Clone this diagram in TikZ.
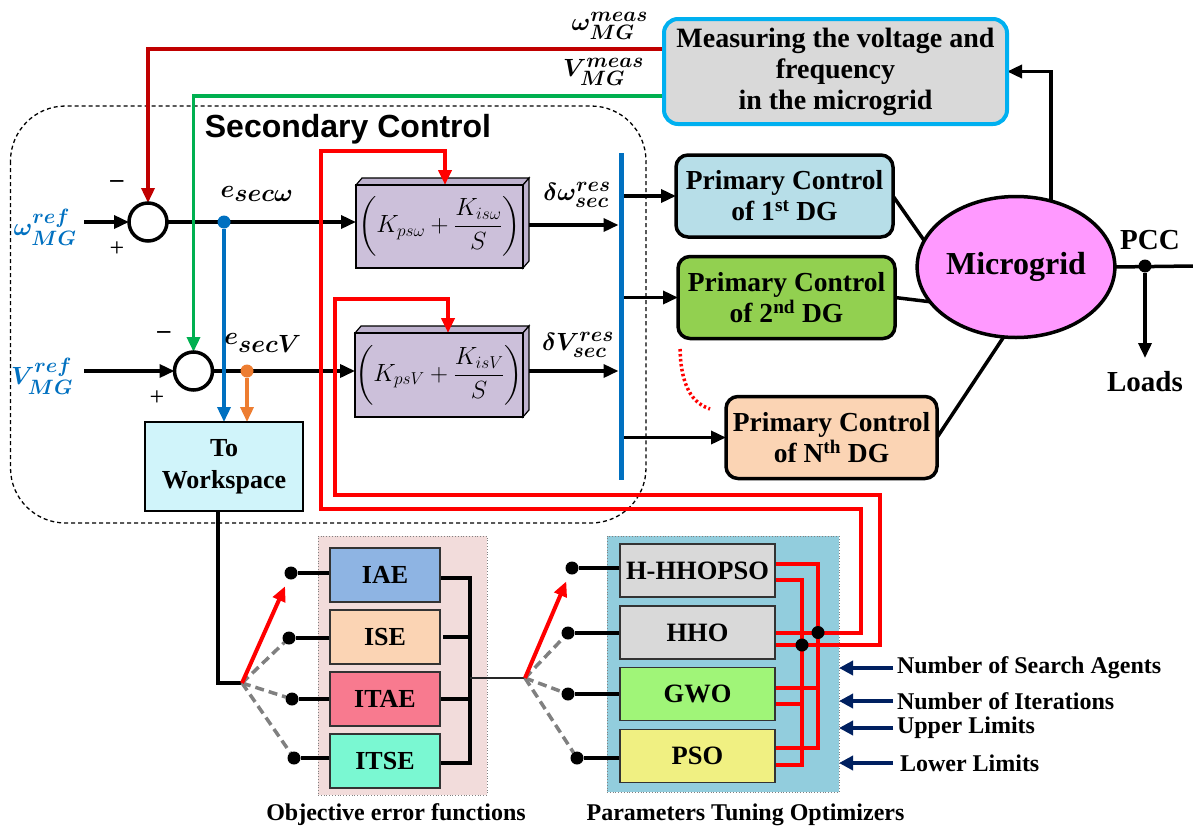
\documentclass[tikz,border=0pt]{standalone}
\usepackage{amsmath}
\usepackage{fontspec}
\setmainfont{Liberation Serif}
\newfontfamily\secfont{Liberation Sans}
\usetikzlibrary{arrows.meta,shapes.geometric,calc}
\newcommand{\bmlab}[1]{{\boldmath$#1$}}
\definecolor{mgblue}{RGB}{0,112,192}
\definecolor{dred}{RGB}{192,0,0}
\definecolor{mgreen}{RGB}{0,176,80}
\definecolor{morange}{RGB}{237,125,49}
\definecolor{mcyan}{RGB}{0,176,240}
\definecolor{lgray}{RGB}{217,217,217}
\definecolor{mnavy}{RGB}{0,32,96}
\definecolor{pifill}{RGB}{204,192,218}
\definecolor{piside}{RGB}{190,178,206}
\definecolor{twfill}{RGB}{208,244,250}
\definecolor{pofill}{RGB}{183,222,232}
\definecolor{ptfill}{RGB}{146,208,80}
\definecolor{pnfill}{RGB}{251,212,180}
\definecolor{mgfill}{RGB}{255,153,255}
\definecolor{objfill}{RGB}{242,220,219}
\definecolor{optfill}{RGB}{146,205,221}
\definecolor{iaefill}{RGB}{142,180,227}
\definecolor{isefill}{RGB}{251,212,180}
\definecolor{itaefill}{RGB}{248,122,143}
\definecolor{itsefill}{RGB}{122,248,210}
\definecolor{gwofill}{RGB}{160,245,120}
\definecolor{psofill}{RGB}{240,240,130}
\pgfdeclarelayer{back}
\pgfdeclarelayer{lines}
\pgfsetlayers{back,lines,main}
\begin{document}
\begin{tikzpicture}[x=1pt,y=-1pt,
  every node/.style={inner sep=0pt, outer sep=0pt},
  ln/.style={line width=3.5pt},
  arr/.style={line width=3.5pt,-{Triangle[length=15pt,width=13pt]}},
  sumc/.style={circle, draw, line width=3.5pt, minimum size=38pt, fill=white},
  dotn/.style={circle, fill=black, minimum size=13pt},
  pib/.style={draw, line width=1.2pt, fill=pifill, minimum width=167pt, minimum height=83pt, font=\fontsize{27}{32}\selectfont},
  pcb/.style={draw, line width=3.5pt, rounded corners=12pt, minimum width=217pt, minimum height=82pt, align=center, font=\fontsize{27.5}{31}\selectfont\bfseries},
  fb/.style={draw=black!80, line width=1.5pt, minimum width=110pt, minimum height=54pt, font=\fontsize{26}{29}\selectfont\bfseries},
  ob/.style={draw=black!80, line width=1.5pt, minimum width=155pt, minimum height=53pt, font=\fontsize{26.5}{29}\selectfont\bfseries},
  mlab/.style={font=\fontsize{30}{34}\selectfont},
  redl/.style={red, line width=4pt},
  gdash/.style={gray, line width=3.5pt, dash pattern=on 9pt off 5pt},
  inarr/.style={mnavy, line width=3.5pt, -{Triangle[length=14pt,width=14pt]}},
  inlab/.style={anchor=west, font=\fontsize{24}{28}\selectfont\bfseries},
  panel/.style={draw=gray, dotted, line width=0.8pt},
  sign/.style={font=\fontsize{26}{26}\selectfont},
]
\useasboundingbox (0,0) rectangle (1193,830);

% ---------- panels / regions ----------
\begin{pgfonlayer}{back}
\draw[dash pattern=on 4pt off 3pt, line width=1.3pt, rounded corners=55pt] (10.5,106) rectangle (646,523);
\node[panel, fill=objfill, minimum width=169pt, minimum height=259pt] (objp) at (402.5,665.5) {};
\node[panel, fill=optfill, minimum width=232pt, minimum height=256pt] (optp) at (723,664) {};
\end{pgfonlayer}

% ---------- nodes ----------
\node[draw=mcyan, line width=4pt, fill=lgray, rounded corners=14pt, minimum width=343pt, minimum height=105pt, align=center, font=\fontsize{28}{31}\selectfont\bfseries] (meas) at (835.5,71.5) {Measuring the voltage and\\frequency\\in the microgrid};
\node[mlab, anchor=east] (wmeas) at (648,26) {\bmlab{\omega^{meas}_{MG}}};
\node[mlab, anchor=east] (vmeas) at (644,72) {\bmlab{V^{meas}_{MG}}};

\node[font=\secfont\bfseries\fontsize{32}{36}\selectfont] (sectitle) at (348,129) {Secondary Control};

\node[sumc] (s1) at (148,222) {};
\node[sumc] (s2) at (193.5,371) {};
\node[mlab, text=mgblue] (wref) at (45,227) {\bmlab{\omega^{ref}_{MG}}};
\node[mlab, text=mgblue] (vref) at (42,376) {\bmlab{V^{ref}_{MG}}};
\coordinate (in1) at (84,222);
\coordinate (in2) at (84,371);
\node[sign] (m1) at (117,184) {\textbf{--}};
\node[sign] (p1s) at (117,249) {+};
\node[sign] (m2) at (164,335) {\textbf{--}};
\node[sign] (p2s) at (157,398) {+};

\node[pib] (pi1) at (439.5,226.5) {$\left(K_{ps\omega}+\dfrac{K_{is\omega}}{S}\right)$};
\node[pib, minimum width=166pt, minimum height=84pt] (pi2) at (439,375) {$\left(K_{psV}+\dfrac{K_{isV}}{S}\right)$};

\node[font=\fontsize{34}{38}\selectfont] (esw) at (257,194) {\bmlab{e_{sec\omega}}};
\node[font=\fontsize{34}{38}\selectfont] (esv) at (263,343) {\bmlab{e_{secV}}};
\node[mlab] (dw) at (577,195) {\bmlab{\delta\omega^{res}_{sec}}};
\node[mlab] (dv) at (578,345) {\bmlab{\delta V^{res}_{sec}}};

\node[circle, fill=mgblue, minimum size=13pt] (bd) at (224,222) {};
\node[circle, fill=morange, minimum size=13pt] (od) at (247,371) {};

\node[draw, line width=1.5pt, fill=twfill, minimum width=158pt, minimum height=89pt, align=center, font=\fontsize{26}{32}\selectfont\bfseries] (tw) at (224,466.5) {To\\Workspace};

\node[fill=mgblue, minimum width=5pt, minimum height=327pt] (bar) at (621,316.5) {};

\node[pcb, fill=pofill] (pc1) at (784.5,196) {Primary Control\\of 1\textsuperscript{st} DG};
\node[pcb, fill=ptfill] (pc2) at (786.5,297.5) {Primary Control\\of 2\textsuperscript{nd} DG};
\node[pcb, fill=pnfill, minimum width=211pt] (pcn) at (831.5,437.5) {Primary Control\\of N\textsuperscript{th} DG};

\node[ellipse, draw, line width=3.5pt, fill=mgfill, minimum width=181pt, minimum height=141pt, font=\fontsize{32}{36}\selectfont\bfseries] (mg) at (1016,267) {Microgrid};

\node[dotn] (pcc) at (1145,266) {};
\coordinate (pccend) at (1193,266);
\coordinate (loadend) at (1145,358);
\node[font=\fontsize{29}{33}\selectfont\bfseries] (pcclab) at (1150,240) {PCC};
\node[font=\fontsize{29}{33}\selectfont\bfseries] (loads) at (1145,382) {Loads};

% objective functions
\node[fb, fill=iaefill] (iae) at (385,575) {IAE};
\node[fb, fill=isefill] (ise) at (385,637) {ISE};
\node[fb, fill=itaefill] (itae) at (385,699) {ITAE};
\node[fb, fill=itsefill] (itse) at (385,761) {ITSE};
\node[dotn] (e1) at (291,573) {};
\node[dotn] (e2) at (289,638) {};
\node[dotn] (e3) at (292,699) {};
\node[dotn] (e4) at (294,758) {};
\coordinate (pv1) at (242,683);
\coordinate (busT) at (470,578);
\coordinate (busB) at (470,763);
\coordinate (busM) at (470,678);
\coordinate (pv2) at (525,678);

% optimizers
\node[ob, fill=lgray] (hh) at (697.5,570.5) {H-HHOPSO};
\node[ob, fill=lgray] (hho) at (697.5,632.5) {HHO};
\node[ob, fill=gwofill] (gwo) at (697.5,694) {GWO};
\node[ob, fill=psofill] (pso) at (697.5,756) {PSO};
\node[dotn] (o1) at (572,568) {};
\node[dotn] (o2) at (568,633) {};
\node[dotn] (o3) at (568,694) {};
\node[dotn] (o4) at (577,758) {};
\node[dotn] (ja) at (818,632.5) {};
\node[dotn] (jb) at (802,645) {};

\node[inlab] (l1) at (897,668) {Number of Search Agents};
\node[inlab] (l2) at (897,701) {Number of Iterations};
\node[inlab] (l3) at (897,728) {Upper Limits};
\node[inlab] (l4) at (900,763) {Lower Limits};

\node[font=\fontsize{24}{28}\selectfont\bfseries] (objlab) at (396,815) {Objective error functions};
\node[font=\fontsize{24}{28}\selectfont\bfseries] (optlab) at (745.5,815) {Parameters Tuning Optimizers};

% ---------- connectors ----------
\begin{pgfonlayer}{lines}
\filldraw[fill=piside, line width=1.2pt] (pi1.north west) -- ++(6,-7) -- ([shift={(6,-7)}]pi1.north east) -- (pi1.north east) -- cycle;
\filldraw[fill=piside, line width=1.2pt] (pi1.north east) -- ++(6,-7) -- ([shift={(6,-7)}]pi1.south east) -- (pi1.south east) -- cycle;
\filldraw[fill=piside, line width=1.2pt] (pi2.north west) -- ++(6,-7) -- ([shift={(6,-7)}]pi2.north east) -- (pi2.north east) -- cycle;
\filldraw[fill=piside, line width=1.2pt] (pi2.north east) -- ++(6,-7) -- ([shift={(6,-7)}]pi2.south east) -- (pi2.south east) -- cycle;

\draw[arr] (in1) -- (s1.west);
\draw[arr] (in2) -- (s2.west);
\draw[arr] (s1.east) -- (s1.east -| pi1.west);
\draw[arr] (s2.east) -- (s2.east -| pi2.west);
\draw[arr] ([xshift=6pt,yshift=1.5pt]pi1.east) -- ([yshift=1.5pt]pi1.east -| bar.west);
\draw[arr] ([xshift=6pt,yshift=4pt]pi2.east) -- ([yshift=4pt]pi2.east -| bar.west);
\draw[arr] (bar.east |- pc1.west) -- (pc1.west);
\draw[arr] (bar.east |- pc2.west) -- (pc2.west);
\draw[arr] (bar.east |- pcn.west) -- (pcn.west);
\draw[ln] (pc1.east) -- (mg.164);
\draw[ln] (pc2.east) -- (mg.202);
\draw[ln] (pcn.east) -- (mg.260);
\draw[arr] (mg.62) |- (meas.east);
\draw[ln] (mg.east) -- (pccend);
\draw[arr] (pcc) -- (loadend);
\draw[red, line width=3.5pt, dash pattern=on 2.5pt off 2.5pt] (680,349) .. controls (681,386) and (692,403) .. (710,409);

\draw[arr, dred, line width=3.5pt] ([yshift=22.5pt]meas.west) -| (s1.north);
\draw[arr, mgreen, line width=3.5pt] ([yshift=-24.5pt]meas.west) -| (s2.north);

\draw[arr, mgblue] (bd) -- (bd |- tw.north);
\draw[arr, morange] (od) -- (od |- tw.north);

\draw[ln] ([xshift=-6pt]tw.south) |- (pv1);
\draw[gdash] (pv1) -- (e2);
\draw[gdash] (pv1) -- (e3);
\draw[gdash] (pv1) -- (e4);
\draw[arr, red, line width=4pt, shorten >=8pt] (pv1) -- (e1);
\draw[ln] (e1) -- (e1 -| iae.west);
\draw[ln] (e2) -- (e2 -| ise.west);
\draw[ln] (e3) -- (e3 -| itae.west);
\draw[ln] (e4) -- (e4 -| itse.west);
\draw[ln] ([yshift=-3pt]iae.east) -- (busT) -- (busB) -- ([yshift=-2pt]itse.east);
\draw[ln] ([xshift=3pt]ise.east) -- (ise.east -| busT);
\draw[ln] (itae.east) -- (itae.east -| busT);
\draw[line width=2.5pt, black!85] (busM) -- (pv2);

\draw[gdash] (pv2) -- (o2);
\draw[gdash] (pv2) -- (o3);
\draw[gdash] (pv2) -- (o4);
\draw[arr, red, line width=4pt, shorten >=8pt] (pv2) -- (o1);
\draw[ln] (o1) -- (o1 -| hh.west);
\draw[ln] (o2) -- (o2 -| hho.west);
\draw[ln] (o3) -- (o3 -| gwo.west);
\draw[ln] (o4) -- (o4 -| pso.west);

\draw[redl] ([yshift=6.5pt]hh.east) -- (818,564) -- (818,748) -- ([yshift=8pt]pso.east);
\draw[redl] ([yshift=-9.5pt]hh.east) -- (802,580) -- (802,765) -- ([yshift=-9pt]pso.east);
\draw[redl] ([yshift=6pt]gwo.east) -- (818,688);
\draw[redl] ([yshift=-10pt]gwo.east) -- (802,704);
\draw[arr, red, line width=4pt] (hho.east) -- (861,632.5) -- (861,509) -- (321,509) -- (321,151) -- (445,151) -- ([xshift=5.5pt]pi1.north);
\draw[arr, red, line width=4pt] ([yshift=-12.5pt]hho.east) -- (880,645) -- (880,495) -- (335,495) -- (335,299) -- (448,299) -- ([xshift=9pt]pi2.north);

\draw[inarr] ([xshift=-4pt]l1.west) -- (l1.west -| optp.east);
\draw[inarr] ([xshift=-4pt]l2.west) -- (l2.west -| optp.east);
\draw[inarr] ([xshift=-4pt]l3.west) -- (l3.west -| optp.east);
\draw[inarr] ([xshift=-7pt]l4.west) -- (l4.west -| optp.east);
\end{pgfonlayer}
\end{tikzpicture}
\end{document}
